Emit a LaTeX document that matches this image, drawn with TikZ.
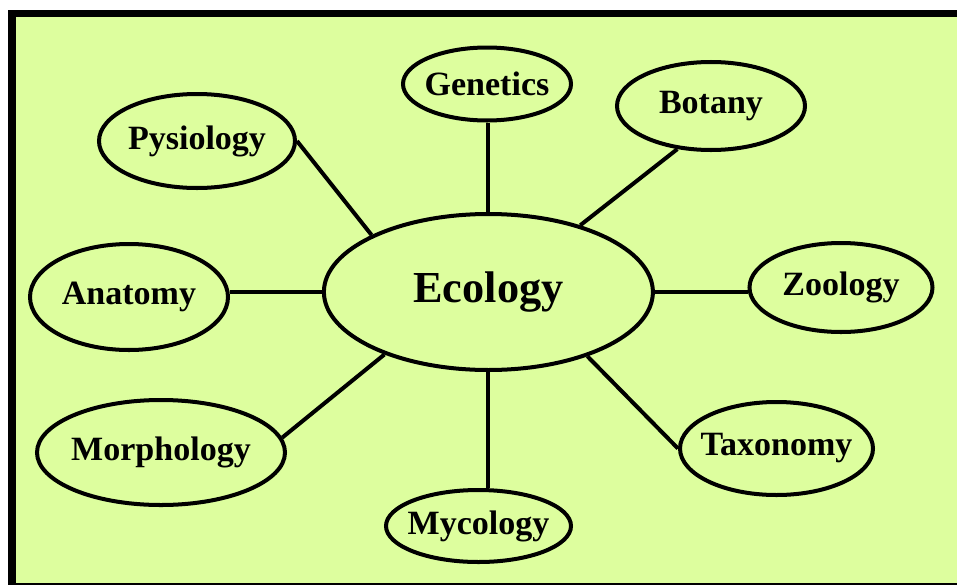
\documentclass[tikz,border=0pt]{standalone}
\usepackage{fontspec}
\setmainfont{Liberation Serif}
\usetikzlibrary{shapes.geometric}
\definecolor{bg}{RGB}{221,254,158}

\begin{document}
\begin{tikzpicture}[
  bub/.style={ellipse,draw,line width=2.85pt,inner sep=0pt},
  every label/.style={font=\bfseries\fontsize{24.2}{28}\selectfont},
  link/.style={line width=2.85pt}]
  \clip (0,0) rectangle (23.925,-14.6);
  \draw[line width=5pt,fill=bg] (0.3,-0.3375) rectangle (25,-14.6625);
  % centre
  \node[bub,minimum width=82.25mm,minimum height=39mm,
    label={[font=\bfseries\fontsize{31.5}{36}\selectfont]center:Ecology}] (eco) at (12.21,-7.3) {};
  % topics round it
  \node[bub,minimum width=42mm,minimum height=18.25mm,label=center:Genetics] (gen) at (12.175,-2.1) {};
  \node[bub,minimum width=47mm,minimum height=22mm,label=center:Botany] (bot) at (17.775,-2.65) {};
  \node[bub,minimum width=49mm,minimum height=23.5mm,label=center:Pysiology] (phy) at (4.925,-3.525) {};
  \node[bub,minimum width=49.5mm,minimum height=26.5mm,label=center:Anatomy] (ana) at (3.225,-7.425) {};
  \node[bub,minimum width=45.75mm,minimum height=22.25mm,label=center:Zoology] (zoo) at (21.025,-7.1875) {};
  \node[bub,minimum width=62mm,minimum height=26.25mm,label=center:Morphology] (mor) at (4.025,-11.3125) {};
  \node[bub,minimum width=48.25mm,minimum height=23.25mm,label=center:Taxonomy] (tax) at (19.4125,-11.2125) {};
  \node[bub,minimum width=46.25mm,minimum height=18mm,label=center:Mycology] (myc) at (11.9625,-13.15) {};
  % links
  \draw[link] (eco.north) -- (eco.north |- gen.south);
  \draw[link] (eco.36) -- (bot.232);
  \draw[link] (eco.154) -- (phy.east);
  \draw[link] (eco.west) -- (eco.west -| ana.east);
  \draw[link] (eco.east) -- (eco.east -| zoo.west);
  \draw[link] (eco.211) -- (mor.7);
  \draw[link] (eco.327) -- (tax.west);
  \draw[link] (eco.south) -- (eco.south |- myc.north);
\end{tikzpicture}
\end{document}
